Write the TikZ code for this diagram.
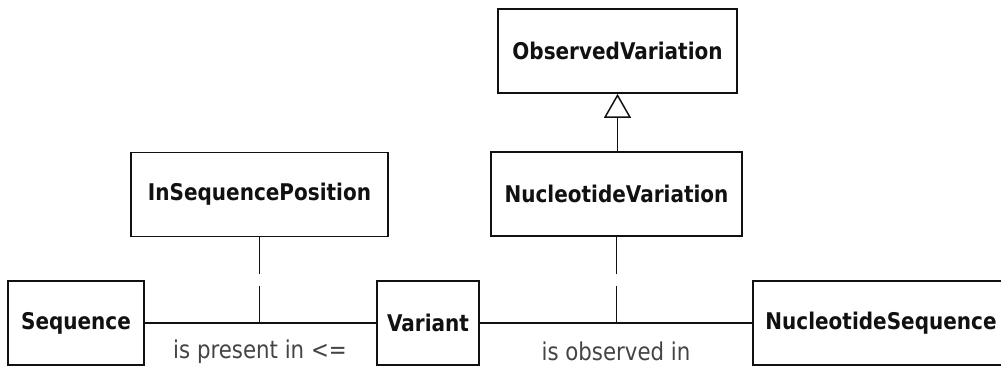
\documentclass[tikz,border=0pt]{standalone}
\usepackage{fontspec}
\setmainfont{DejaVu Sans}[FakeStretch=0.87]
\usetikzlibrary{arrows.meta,calc}
\definecolor{ink}{HTML}{111111}
\definecolor{labelgray}{HTML}{444444}
\begin{document}
\begin{tikzpicture}[x=1pt,y=-1pt,
  classbox/.style={draw=ink, line width=1.7pt, rectangle, inner sep=0pt,
    minimum height=84pt, text=ink,
    font=\fontsize{23pt}{26pt}\selectfont\bfseries},
  assoc/.style={draw=ink, line width=1.6pt},
  link/.style={draw=ink, line width=1.6pt, dash pattern=on 37pt off 12pt on 60pt},
  inherit/.style={draw=ink, line width=1.6pt,
    -{Triangle[open, length=24pt, width=27pt, line width=1.5pt]}},
  rolelabel/.style={text=labelgray, inner sep=0pt, anchor=base,
    font=\fontsize{24.5pt}{28pt}\selectfont}]
\clip (0,0) rectangle (1001,366);
\fill[white] (0,0) rectangle (1001,366);

% class boxes
\node[classbox, minimum width=239pt] (ov)  at (617.5,51)  {ObservedVariation};
\node[classbox, minimum width=251pt] (nv)  at (616.5,194) {NucleotideVariation};
\node[classbox, minimum width=257pt] (isp) at (259.5,194.5) {InSequencePosition};
\node[classbox, minimum width=136pt] (seq) at (76,323)    {Sequence};
\node[classbox, minimum width=102pt] (var) at (428,323)   {Variant};
\node[classbox, minimum width=256pt] (ns)  at (881,323)   {NucleotideSequence};

% generalisation, kept vertical
\draw[inherit] (ov.south |- nv.north) -- (ov.south);

% associations
\draw[assoc] (seq.east) -- (var.west);
\draw[assoc] (var.east) -- (ns.west);
\coordinate (m1) at ($(seq.east)!0.5!(var.west)$);
\coordinate (m2) at ($(var.east)!0.5!(ns.west)$);

% association classes
\draw[link] (isp.south) -- (isp.south |- m1);
\draw[link] (nv.south) -- (nv.south |- m2);

% role labels
\node[rolelabel] (l1) at (260,358.5) {is present in <=};
\node[rolelabel] (l2) at (616,360) {is observed in};
\end{tikzpicture}
\end{document}
